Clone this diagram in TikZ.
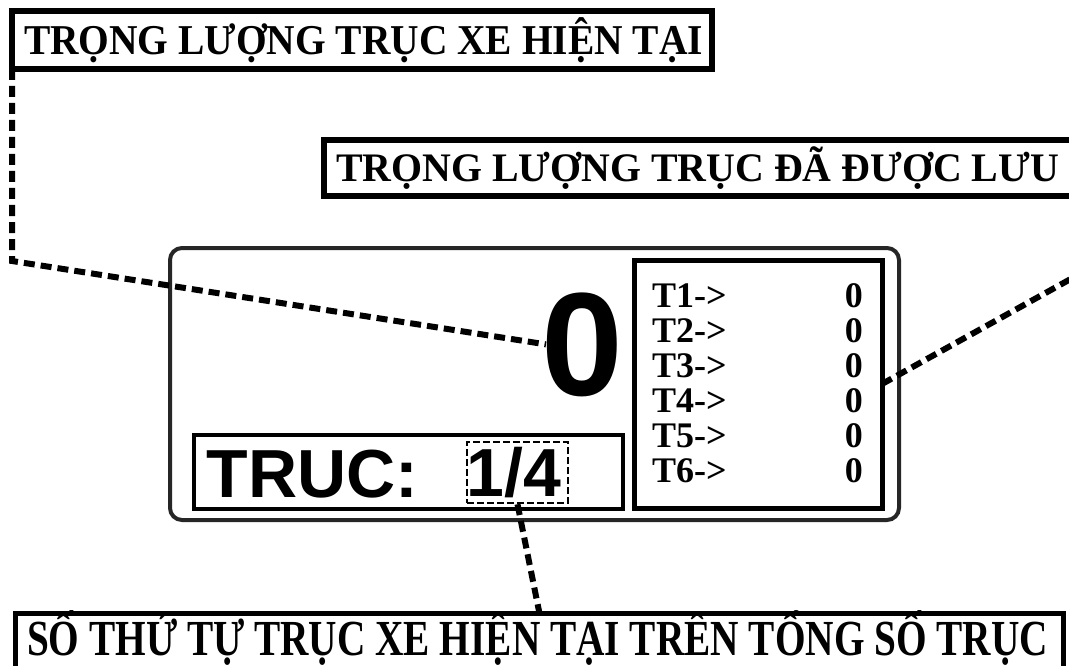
\documentclass[tikz,border=0pt]{standalone}
\usepackage{fontspec}
\usepackage{graphicx}
\setmainfont{Liberation Serif}
\newfontfamily\arialf{Liberation Sans}
\tikzset{
  boxframe/.style={draw=black, line width=#1, inner sep=0pt, outer sep=0pt, fill=none},
  conn/.style={draw=black, line width=6pt, dash pattern=on 11pt off 6pt},
  head/.style={anchor=base west, inner sep=0pt, outer sep=0pt},
  tlab/.style={anchor=base west, inner sep=0pt, font=\fontsize{36}{40}\selectfont\bfseries},
  tval/.style={anchor=base east, inner sep=0pt, font=\fontsize{36}{40}\selectfont\bfseries},
}
\begin{document}
\begin{tikzpicture}[x=1pt,y=-1pt]
\useasboundingbox (0,0) rectangle (1069,666);
\clip (0,0) rectangle (1069,666);
\fill[white] (0,0) rectangle (1069,666);

% label boxes
\node[boxframe=6pt, minimum width=700pt, minimum height=58pt] (box1) at (362,40) {};
\node[head] (t1) at (24,55) {\fontsize{42.5}{50}\selectfont\bfseries\resizebox{679pt}{\height}{TRỌNG LƯỢNG TRỤC XE HIỆN TẠI}};

\node[boxframe=6pt, minimum width=756pt, minimum height=56pt] (box2) at (702,168) {};
\node[head] (t2) at (336,182) {\fontsize{40.5}{48}\selectfont\bfseries\resizebox{723pt}{\height}{TRỌNG LƯỢNG TRỤC ĐÃ ĐƯỢC LƯU}};

\node[boxframe=5pt, minimum width=1048pt, minimum height=66.5pt] (box3) at (539.5,646.75) {};
\node[head] (t3) at (27,655) {\fontsize{50.5}{58}\selectfont\bfseries\resizebox{1021pt}{\height}{SỐ THỨ TỰ TRỤC XE HIỆN TẠI TRÊN TỔNG SỐ TRỤC}};

% display
\node[draw=black!85, line width=4pt, rounded corners=12pt, inner sep=0pt, minimum width=729pt, minimum height=272pt] (disp) at (534.5,384) {};
\node[boxframe=5pt, minimum width=248pt, minimum height=248pt] (tbox) at (758,384) {};
\node[boxframe=3.5pt, minimum width=429pt, minimum height=74pt] (abox) at (408.5,472) {};
\node[draw=black, line width=2.5pt, dash pattern=on 7pt off 3pt, inner sep=0pt, minimum width=101pt, minimum height=61pt] (dbox) at (517.5,472.5) {};

\node[anchor=base west, inner sep=0pt] (zero) at (541,395) {\arialf\bfseries\fontsize{147}{150}\selectfont 0};
\node[anchor=base west, inner sep=0pt] (truc) at (206.5,497) {\arialf\bfseries\fontsize{68}{72}\selectfont TRUC:};
\node[anchor=base, inner sep=0pt] (frac) at (514,496) {\arialf\bfseries\fontsize{68}{72}\selectfont 1/4};

\foreach \i in {1,...,6} {
  \node[tlab] (tl\i) at (652,{307+(\i-1)*35}) {T\i->};
  \node[tval] (tv\i) at (863,{307+(\i-1)*35}) {0};
}

% connectors
\coordinate (k1) at (12,261);
\coordinate (k2) at (1085,271);
\draw[conn] (box1.south west) -- (k1) -- ([xshift=5pt]zero.west);
\draw[conn] (tbox.east) -- (k2);
\draw[conn] (dbox.south) -- (box3.north);
\end{tikzpicture}
\end{document}
